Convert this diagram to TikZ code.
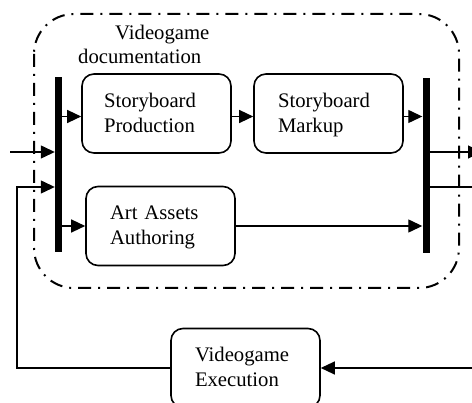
\documentclass[tikz,border=0pt]{standalone}
\usepackage{fontspec}
\setmainfont{Liberation Serif}
\usetikzlibrary{arrows.meta}
\begin{document}
\begin{tikzpicture}[x=1pt,y=-1pt,
  font=\fontsize{20.7}{25}\selectfont,
  proc/.style={draw, line width=1.6pt, rounded corners=12pt,
    minimum width=149pt, minimum height=79pt, align=left,
    text width=101pt, text height=14pt, text depth=26pt, inner sep=0pt},
  bar/.style={fill=black, inner sep=0pt, minimum width=7pt, minimum height=175pt},
  flow/.style={line width=1.3pt, -{Triangle[length=14pt,width=13pt]}},
  link/.style={line width=1.3pt},
  group/.style={line width=2pt, dash pattern=on 13pt off 7pt on 2pt off 7pt,
    rounded corners=40pt},
  caption/.style={anchor=base west, inner sep=0pt}]
\useasboundingbox (0,0) rectangle (472,403);

% documentation group
\draw[group] (34,14) rectangle (459,288);
\node[caption] (t1) at (115,40) {Videogame};
\node[caption] (t2) at (78,64) {documentation};

% activities
\node[proc, text width=105pt] (sp) at (156.5,113.5) {Storyboard\\Production};
\node[proc] (sm) at (328.5,113.5) {Storyboard\\Markup};
\node[proc] (art) at (160.5,226) {Art Assets\\Authoring};
\node[proc] (exe) at (245.5,368) {Videogame\\Execution};

% fork and join bars
\node[bar] (lb) at (58.5,164.5) {};
\node[bar] (rb) at (426,165.5) {};

% free ends and bends
\coordinate (in) at (10,152);
\coordinate (fb) at (17,187);
\coordinate (out) at (482,152);
\coordinate (out2) at (472,187);
\coordinate (back) at (472,368);
\coordinate (a1) at ([yshift=-3pt]sp.west);
\coordinate (a2) at ([yshift=-3pt]sm.east);

% connectors
\draw[flow] (in) -- (in -| lb.west);
\draw[flow] (exe.west) -| (fb) -- (fb -| lb.west);
\draw[flow] (a1 -| lb.east) -- (a1);
\draw[flow] ([yshift=-3pt]sp.east) -- ([yshift=-3pt]sm.west);
\draw[flow] (a2) -- (a2 -| rb.west);
\draw[flow] (lb.east |- art.west) -- (art.west);
\draw[flow] (art.east) -- (art.east -| rb.west);
\draw[flow] (rb.east |- out) -- (out);
\draw[link] (rb.east |- out2) -- (out2);
\draw[flow] (back) -- (exe.east);
\end{tikzpicture}
\end{document}
